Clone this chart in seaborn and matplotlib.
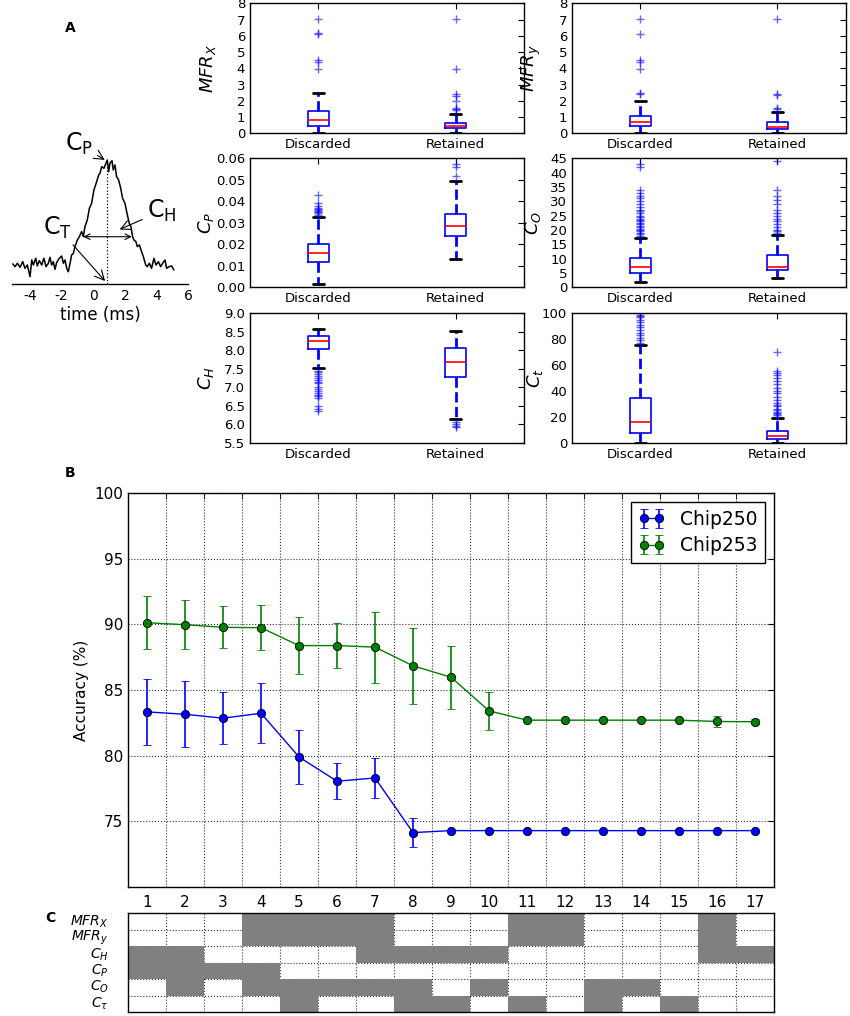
import numpy as np
import matplotlib
matplotlib.use('Agg')
import matplotlib.pyplot as plt
import seaborn as sns
from matplotlib.colors import ListedColormap

# ---- panel A: example spike waveform ----
time_ms = [-5.09, -4.95, -4.80, -4.63, -4.46, -4.32, -4.17, -4.00, -3.89, -3.79,
           -3.64, -3.54, -3.41, -3.26, -3.12, -2.99, -2.84, -2.74, -2.63, -2.53,
           -2.42, -2.32, -2.15, -2.00, -1.89, -1.79, -1.68, -1.58, -1.47, -1.37,
           -1.26, -1.16, -1.01, -0.88, -0.74, -0.63, -0.53, -0.38, -0.25, -0.11,
           0.04, 0.21, 0.34, 0.42, 0.53, 0.67, 0.80, 0.88, 0.97, 1.05,
           1.18, 1.26, 1.37, 1.47, 1.60, 1.73, 1.85, 2.00, 2.13, 2.27,
           2.38, 2.48, 2.57, 2.69, 2.78, 2.91, 3.05, 3.16, 3.31, 3.41,
           3.54, 3.68, 3.83, 3.96, 4.11, 4.25, 4.38, 4.53, 4.63, 4.78,
           4.95, 5.09]
amplitude = [0.010, -0.016, 0.016, -0.022, 0.031, -0.031, 0.000, -0.109, 0.047, 0.000,
             0.063, -0.009, 0.041, 0.000, 0.063, -0.016, 0.016, 0.072, 0.000, 0.031,
             -0.041, 0.022, 0.063, 0.084, 0.016, 0.047, -0.031, -0.063, 0.016, 0.094,
             0.109, 0.172, 0.234, 0.266, 0.313, 0.266, 0.359, 0.422, 0.531, 0.578,
             0.703, 0.781, 0.844, 0.859, 0.922, 0.906, 0.953, 0.984, 0.875, 0.953,
             0.978, 0.891, 0.938, 0.828, 0.797, 0.719, 0.625, 0.578, 0.484, 0.391,
             0.359, 0.266, 0.234, 0.219, 0.172, 0.188, 0.125, 0.078, 0.000, -0.016,
             0.016, -0.031, 0.063, 0.000, 0.031, -0.016, 0.016, 0.047, -0.031, -0.016,
             -0.009, -0.047]
peak_time = 0.88
half_width = [-0.63, 2.43]

# ---- panel A: box plots, [whislo, q1, median, q3, whishi] per group ----
box_labels = ['Discarded', 'Retained']
mfrx_box = [[0.0, 0.45, 0.80, 1.37, 2.46], [0.0, 0.33, 0.47, 0.66, 1.17]]
mfrx_fliers = [[3.96, 4.41, 4.49, 6.13, 6.18, 7.02],
               [1.45, 1.50, 1.54, 1.99, 2.30, 2.42, 3.96, 7.02]]
mfry_box = [[0.0, 0.43, 0.70, 1.09, 2.01], [0.0, 0.27, 0.41, 0.70, 1.31]]
mfry_fliers = [[2.40, 2.50, 3.96, 4.39, 4.49, 6.13, 7.02],
               [1.50, 1.54, 2.34, 2.42, 7.02]]
cp_box = [[0.0014, 0.0117, 0.0160, 0.0200, 0.0325], [0.0131, 0.0238, 0.0285, 0.0341, 0.0495]]
cp_fliers = [[0.0335, 0.0345, 0.035, 0.0355, 0.036, 0.0365, 0.037, 0.038, 0.0393, 0.043],
             [0.0517, 0.0558, 0.0574]]
co_box = [[2.0, 5.0, 7.1, 10.2, 17.3], [3.1, 6.1, 7.1, 11.2, 18.4]]
co_fliers = [[18, 18.5, 19, 19.5, 20, 20.5, 21, 21.5, 22, 22.5, 23, 23.5, 24, 24.5, 25,
              26, 26.5, 27, 28, 29, 30, 31, 32, 33, 34, 42, 43],
             [19, 19.5, 20, 21, 22, 23, 24, 25, 26, 27, 29, 30.5, 32, 34, 44]]
ch_box = [[7.51, 8.03, 8.26, 8.39, 8.57], [6.15, 7.27, 7.68, 8.05, 8.53]]
ch_fliers = [[7.45, 7.4, 7.35, 7.3, 7.25, 7.2, 7.15, 7.1, 7.0, 6.95, 6.9, 6.85, 6.8,
              6.75, 6.7, 6.5, 6.4, 6.35],
             [6.05, 6.0, 5.95, 5.92]]
ct_box = [[0.0, 7.2, 16.2, 34.8, 75.5], [0.0, 2.6, 5.2, 9.3, 18.8]]
ct_fliers = [[77, 79, 81, 83, 85, 87, 89, 91, 93, 95, 97, 98, 99, 100],
             [20, 21, 22, 23, 24, 25, 26, 28, 29, 31, 33, 35, 38, 40, 42, 45, 48,
              50, 52, 54, 55, 70]]

# ---- panel B: accuracy vs feature subset ----
subset = list(range(1, 18))
chip250_acc = [83.33, 83.15, 82.85, 83.23, 79.90, 78.05, 78.30, 74.14, 74.29,
               74.29, 74.29, 74.29, 74.29, 74.29, 74.29, 74.29, 74.29]
chip250_err = [2.5, 2.5, 2.0, 2.3, 2.05, 1.36, 1.55, 1.1, 0.0,
               0.0, 0.0, 0.0, 0.0, 0.0, 0.0, 0.0, 0.0]
chip253_acc = [90.12, 89.97, 89.77, 89.74, 88.38, 88.38, 88.26, 86.84, 85.97,
               83.41, 82.70, 82.70, 82.70, 82.70, 82.70, 82.60, 82.58]
chip253_err = [2.0, 1.85, 1.6, 1.7, 2.2, 1.7, 2.7, 2.9, 2.4,
               1.47, 0.0, 0.0, 0.0, 0.0, 0.0, 0.43, 0.2]

# ---- panel C: which features are used in each subset ----
feature_labels = [r'$MFR_X$', r'$MFR_y$', r'$C_H$', r'$C_P$', r'$C_O$', r'$C_\tau$']
sel_mfrx = [0, 0, 0, 1, 1, 1, 1, 0, 0, 0, 1, 1, 0, 0, 0, 1, 0]
sel_mfry = [0, 0, 0, 1, 1, 1, 1, 0, 0, 0, 1, 1, 0, 0, 0, 1, 0]
sel_ch = [1, 1, 0, 0, 0, 0, 1, 1, 1, 1, 0, 0, 0, 0, 0, 1, 1]
sel_cp = [1, 1, 1, 1, 0, 0, 0, 0, 0, 0, 0, 0, 0, 0, 0, 0, 0]
sel_co = [0, 1, 0, 1, 1, 1, 1, 1, 0, 1, 0, 0, 1, 1, 0, 0, 0]
sel_ct = [0, 0, 0, 0, 1, 0, 0, 1, 1, 0, 1, 0, 1, 0, 1, 0, 0]

sns.set_style('white')
plt.rcParams.update({
    'font.family': ['DejaVu Sans'],
    'axes.edgecolor': 'k',
    'axes.linewidth': 1.0,
    'axes.unicode_minus': False,
    'xtick.direction': 'in',
    'ytick.direction': 'in',
    'xtick.color': 'k',
    'ytick.color': 'k',
    'text.color': 'k',
    'axes.labelcolor': 'k',
})

fig = plt.figure(figsize=(8.5, 10.16), dpi=100)

# ---- waveform ----
axw = fig.add_axes([0.0139, 0.7205, 0.2076, 0.1516])
sns.lineplot(x=time_ms, y=amplitude, ax=axw, color='k', lw=1.1, estimator=None, sort=False)
axw.set_xlim(-5.15, 6)
axw.set_ylim(-0.178, 1.266)
for s in ['top', 'left', 'right']:
    axw.spines[s].set_visible(False)
axw.set_yticks([])
axw.set_xticks([-4, -2, 0, 2, 4, 6])
axw.tick_params(axis='x', labelsize=10, length=3, top=False)
axw.set_xlabel('time (ms)', fontsize=12, labelpad=2)
axw.vlines(peak_time, -0.178, 0.985, colors='k', linestyles=':', lw=0.9)
arrow = dict(arrowstyle='->', lw=0.8, color='k', shrinkA=1, shrinkB=1)
axw.annotate(r'$\mathregular{C_P}$', xy=(0.80, 0.978), xytext=(-0.90, 1.134),
             ha='center', va='center', fontsize=17, arrowprops=arrow, annotation_clip=False)
axw.annotate(r'$\mathregular{C_H}$', xy=(1.58, 0.328), xytext=(4.31, 0.506),
             ha='center', va='center', fontsize=17, arrowprops=arrow, annotation_clip=False)
axw.annotate(r'$\mathregular{C_T}$', xy=(0.80, -0.16), xytext=(-2.26, 0.352),
             ha='center', va='center', fontsize=17, arrowprops=arrow, annotation_clip=False)
axw.annotate('', xy=(half_width[0], 0.265), xytext=(half_width[1], 0.265),
             arrowprops=dict(arrowstyle='<->', lw=0.8, color='k', shrinkA=0, shrinkB=0))


def draw_box(rect, stats, fliers, ylim, yticks, fmt, ylabel, labelx):
    ax = fig.add_axes(rect)
    bx = [dict(whislo=s[0], q1=s[1], med=s[2], q3=s[3], whishi=s[4], fliers=f, label=l)
          for s, f, l in zip(stats, fliers, box_labels)]
    ax.bxp(bx, positions=[1, 2], widths=0.16,
           boxprops=dict(color='b', lw=1.2),
           medianprops=dict(color='r', lw=1.2),
           whiskerprops=dict(color='b', ls='--', lw=2),
           capprops=dict(color='k', lw=2),
           flierprops=dict(marker='+', markeredgecolor='b', alpha=0.6,
                           markersize=6, linestyle='none'))
    ax.set_xlim(0.5, 2.5)
    ax.set_ylim(ylim)
    ax.set_yticks(yticks)
    ax.set_yticklabels([fmt % v for v in yticks])
    ax.tick_params(labelsize=9.5, right=True, top=True, length=4)
    ax.set_ylabel(ylabel, fontsize=13)
    ax.yaxis.set_label_coords(labelx, 0.5)
    return ax


lx, rx, w = 0.2941, 0.6729, 0.3224
draw_box([lx, 0.8688, w, 0.128], mfrx_box, mfrx_fliers, (0, 8), np.arange(0, 9, 1), '%d', r'$MFR_X$', -0.115)
draw_box([rx, 0.8688, w, 0.128], mfry_box, mfry_fliers, (0, 8), np.arange(0, 9, 1), '%d', r'$MFR_y$', -0.105)
draw_box([lx, 0.7172, w, 0.127], cp_box, cp_fliers, (0, 0.06), np.arange(0, 0.061, 0.01), '%.2f', r'$C_P$', -0.125)
draw_box([rx, 0.7172, w, 0.127], co_box, co_fliers, (0, 45), np.arange(0, 46, 5), '%d', r'$C_O$', -0.105)
draw_box([lx, 0.5643, w, 0.1274], ch_box, ch_fliers, (5.5, 9.0), np.arange(5.5, 9.01, 0.5), '%.1f', r'$C_H$', -0.125)
draw_box([rx, 0.5643, w, 0.1274], ct_box, ct_fliers, (0, 100), np.arange(0, 101, 20), '%d', r'$C_t$', -0.1)

# ---- panel B ----
axb = fig.add_axes([0.1506, 0.1270, 0.760, 0.3878])
axb.errorbar(subset, chip250_acc, yerr=chip250_err, color='b', marker='o', ms=6,
             mec='k', mew=0.6, lw=1, elinewidth=1.2, capsize=3, label='Chip250')
axb.errorbar(subset, chip253_acc, yerr=chip253_err, color='g', marker='o', ms=6,
             mec='k', mew=0.6, lw=1, elinewidth=1.2, capsize=3, label='Chip253')
axb.set_xlim(0.5, 17.5)
axb.set_ylim(70, 100)
axb.set_yticks(np.arange(75, 101, 5))
axb.set_xticks(subset)
axb.set_xticks(np.arange(1.5, 17, 1), minor=True)
axb.tick_params(axis='x', which='major', length=0, labelsize=11, pad=6)
axb.tick_params(axis='x', which='minor', length=4, top=True)
axb.tick_params(axis='y', labelsize=11, right=True, length=4)
axb.grid(which='minor', axis='x', ls=':', color='k', lw=0.8, alpha=0.8)
axb.grid(which='major', axis='y', ls=':', color='k', lw=0.8, alpha=0.8)
axb.set_ylabel('Accuracy (%)', fontsize=11)
axb.legend(loc='upper right', numpoints=2, fontsize=13.5, fancybox=False, edgecolor='k',
           framealpha=1, handlelength=1.4, borderaxespad=0.5, labelspacing=0.4)

# ---- panel C ----
axc = fig.add_axes([0.1506, 0.0039, 0.760, 0.0974])
sel = np.array([sel_mfrx, sel_mfry, sel_ch, sel_cp, sel_co, sel_ct])
sns.heatmap(sel, ax=axc, cmap=ListedColormap(['#808080']), mask=(sel == 0), cbar=False,
            vmin=0, vmax=1, xticklabels=False, yticklabels=feature_labels)
axc.collections[0].set_zorder(3)
for s in axc.spines.values():
    s.set_visible(True)
    s.set_color('k')
    s.set_zorder(4)
axc.set_xticks(np.arange(1, 17), minor=True)
axc.set_yticks(np.arange(1, 6), minor=True)
axc.grid(which='minor', ls=':', color='k', lw=0.8, alpha=0.8)
axc.tick_params(which='both', length=0)
axc.tick_params(axis='y', pad=14)
axc.set_yticklabels(feature_labels, rotation=0, fontsize=10)

fig.text(0.0824, 0.9724, 'A', fontsize=10, fontweight='bold', ha='center', va='center')
fig.text(0.0824, 0.5344, 'B', fontsize=10, fontweight='bold', ha='center', va='center')
fig.text(0.0588, 0.0965, 'C', fontsize=10, fontweight='bold', ha='center', va='center')

fig.savefig('out.png', dpi=100)
